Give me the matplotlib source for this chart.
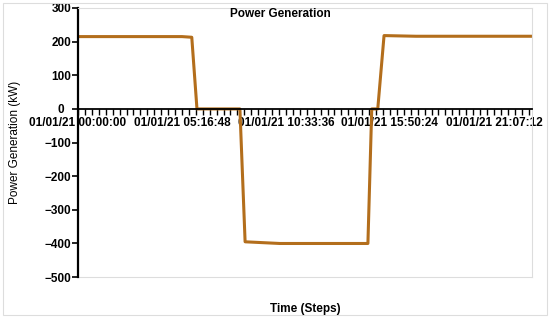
import numpy as np
import matplotlib
matplotlib.use("Agg")
from matplotlib import pyplot as plt
from matplotlib.ticker import FuncFormatter, MultipleLocator
from matplotlib.patches import Rectangle

plt.rcParams['font.family'] = ['Liberation Sans', 'DejaVu Sans']

# time in seconds from 01/01/21 00:00:00, power in kW
time_s = [0, 19000, 20800, 21750, 29600, 30550, 36900, 53000, 53700, 54800,
          55950, 61800, 83000]
power_kw = [215, 215, 213, 0, 0, -395, -400, -400, 0, 0,
            218, 216, 216]

major_step = 19008  # 05:16:48
tick_date = "01/01/21"

fig = plt.figure(figsize=(5.5, 3.2), dpi=100)
ax = fig.add_axes([0.1418, 0.134, 0.8255, 0.841])

ax.plot(time_s, power_kw, color='#b36e1c', lw=2.2)

ax.set_xlim(0, 83000)
ax.set_ylim(-500, 300)
ax.set_yticks([300, 200, 100, 0, -100, -200, -300, -400, -500])

def fmt_time(v, pos):
    s = int(round(v))
    return "%s %02d:%02d:%02d" % (tick_date, s // 3600, (s % 3600) // 60, s % 60)

ax.xaxis.set_major_locator(MultipleLocator(major_step))
ax.xaxis.set_minor_locator(MultipleLocator(major_step / 15))
ax.xaxis.set_major_formatter(FuncFormatter(fmt_time))

ax.spines['bottom'].set_position(('data', 0))
ax.spines['bottom'].set_color('black')
ax.spines['bottom'].set_linewidth(1.3)
ax.spines['left'].set_linewidth(1.6)
for side in ['top', 'right']:
    ax.spines[side].set_color('#dddddd')
    ax.spines[side].set_linewidth(0.8)
ax.axhline(-500, color='#dddddd', lw=0.8, clip_on=False)

ax.tick_params(axis='x', which='both', direction='out', length=4, width=1,
               pad=2, labelsize=8.5)
ax.tick_params(axis='y', direction='out', length=4, width=1.2, pad=1,
               labelsize=8.5)
for lbl in ax.get_xticklabels() + ax.get_yticklabels():
    lbl.set_fontweight('bold')
# the zero tick is longer, its label sits further left
zero_tick = ax.yaxis.get_major_ticks()[3]
zero_tick._apply_params(length=8, pad=6)
zero_tick.label1.set_fontweight('bold')

ax.set_ylabel("Power Generation (kW)", fontsize=8.5, labelpad=17)
fig.text(0.556, 0.035, "Time (Steps)", fontsize=8.5, fontweight='bold',
         ha='center', va='center')
fig.text(0.51, 0.955, "Power Generation", fontsize=8.5, fontweight='bold',
         ha='center', va='center')

fig.patches.append(Rectangle((0.006, 0.015), 0.988, 0.975, transform=fig.transFigure,
                             fill=False, edgecolor='#dddddd', lw=0.8))

fig.savefig('out.png', dpi=100)
